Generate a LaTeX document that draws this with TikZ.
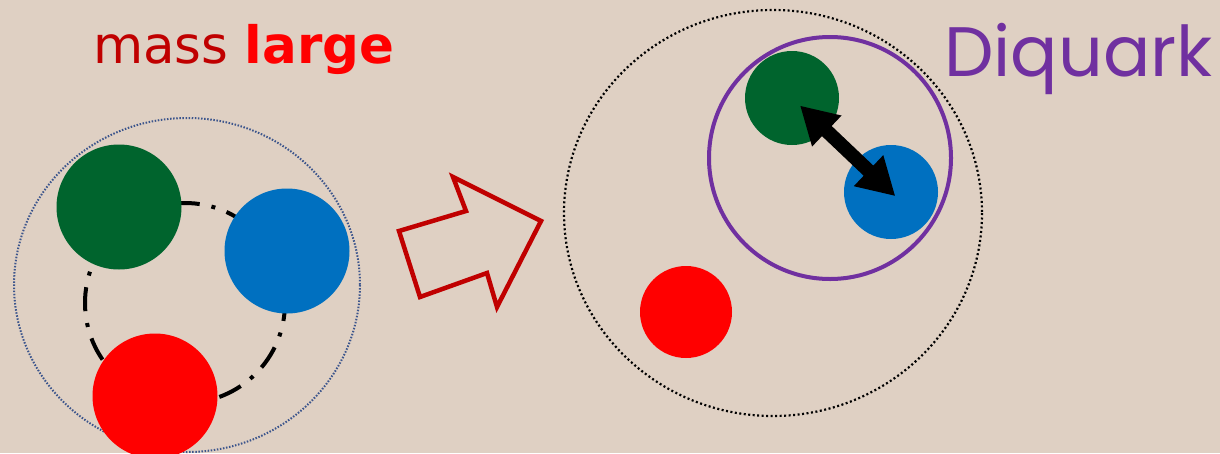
\documentclass[tikz,border=0pt]{standalone}
\usepackage{fontspec}
\setmainfont{DejaVu Sans}
\newfontfamily\diqfont{Poppins}
\usetikzlibrary{arrows.meta}
\definecolor{bgc}{RGB}{223,208,195}
\definecolor{qgreen}{RGB}{0,100,45}
\definecolor{qblue}{RGB}{0,112,192}
\definecolor{qred}{RGB}{255,0,0}
\definecolor{darkred}{RGB}{192,0,0}
\definecolor{dqpurple}{RGB}{112,48,160}
\definecolor{dotblue}{RGB}{60,85,140}
\tikzset{
  quark/.style={circle, inner sep=0pt, minimum size=#1, draw=none},
  bigquark/.style={quark=125pt},
  smallquark/.style={quark=94pt},
  bond/.style={line width=4pt, dash pattern=on 24pt off 12pt on 4pt off 12pt, dash phase=6pt},
  hadronL/.style={draw=dotblue, line width=2pt, dash pattern=on 1.5pt off 1.6pt},
  hadronR/.style={draw=black, line width=2.2pt, dash pattern=on 2pt off 2.5pt},
  dqring/.style={draw=dqpurple, line width=4pt},
  blockarrow/.style={draw=darkred, line width=4.5pt, line join=miter},
  dqarrow/.style={line width=14pt, {Triangle[length=37pt,width=40pt]}-{Triangle[length=37pt,width=40pt]}}
}
\begin{document}
\begin{tikzpicture}[x=1pt,y=-1pt]
\useasboundingbox (0,0) rectangle (1220,453);
\fill[bgc] (0,0) rectangle (1220,453);
\begin{scope}
\clip (0,0) rectangle (1220,453);
% left hadron
\coordinate (hLc) at (187,285);
\draw[hadronL] (hLc) ellipse [x radius=173, y radius=167];
\coordinate (bondc) at (185,303);
\draw[bond] (bondc) circle [radius=100];
\node[bigquark, fill=qgreen] (gL) at (119,207) {};
\node[bigquark, fill=qblue] (bL) at (287,251) {};
\node[bigquark, fill=qred] (rL) at (155,396) {};
% block arrow
\draw[blockarrow] (399,231) -- (466,211) -- (453,177) -- (541,221) -- (497,307) -- (487,273) -- (420,297) -- cycle;
% right hadron
\coordinate (hRc) at (773,213);
\draw[hadronR] (hRc) ellipse [x radius=209, y radius=203];
\node[smallquark, fill=qgreen] (gR) at (792,98) {};
\node[smallquark, fill=qblue] (bR) at (891,192) {};
\node[quark=92pt, fill=qred] (rR) at (686,312) {};
\coordinate (dqc) at (830,158);
\draw[dqring] (dqc) circle [radius=121];
\draw[dqarrow, shorten <=11pt, shorten >=-6pt] (gR.center) -- (bR.center);
\end{scope}
% labels
\node[anchor=base west, inner sep=0pt, font=\fontsize{51.5}{60}\selectfont] (mass) at (93,63) {\textcolor{darkred}{mass} \textcolor{qred}{\bfseries large}};
\node[anchor=base west, inner sep=0pt, text=dqpurple, font=\diqfont\fontsize{70}{80}\selectfont] (diq) at (944,76) {Diquark};
\end{tikzpicture}
\end{document}
